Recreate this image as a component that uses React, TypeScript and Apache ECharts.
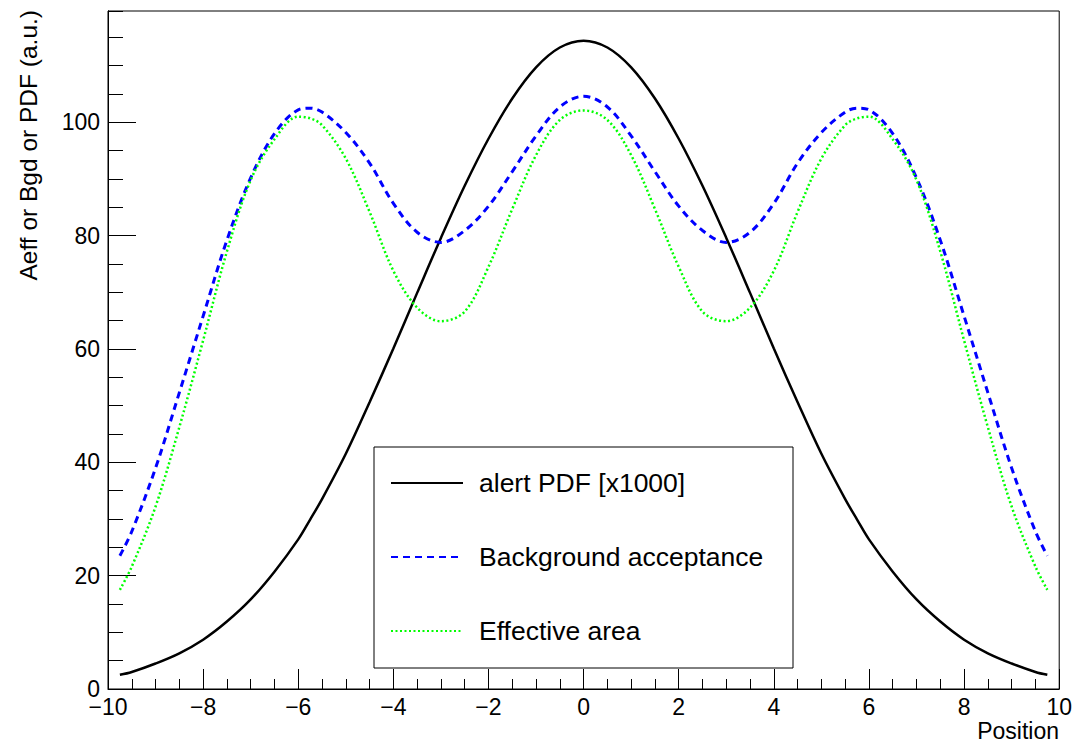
import React, { useEffect, useRef } from "react";
import * as echarts from "echarts";

const FONT = "'Liberation Sans', Arial, Helvetica, sans-serif";

const positions = [
  -9.75, -9.5, -9, -8.5, -8, -7.5, -7, -6.5, -6, -5.75, -5.5, -5, -4.5, -4, -3.5, -3, -2.5, -2, -1.5, -1, -0.5,
  0, 0.5, 1, 1.5, 2, 2.5, 3, 3.5, 4, 4.5, 5, 5.5, 5.75, 6, 6.5, 7, 7.5, 8, 8.5, 9, 9.5, 9.75,
];

const alertPdf = [
  2.5, 3.0, 4.5, 6.3, 8.7, 11.9, 15.8, 20.7, 26.4, 29.9, 33.5, 41.5, 50.6, 60.1, 69.9, 79.6, 88.8, 97.1, 104.2, 109.7, 113.2,
  114.4, 113.2, 109.7, 104.2, 97.1, 88.8, 79.6, 69.9, 60.1, 50.6, 41.5, 33.5, 29.9, 26.4, 20.7, 15.8, 11.9, 8.7, 6.3, 4.5, 3.0, 2.5,
];

const bgdAcceptance = [
  23.5, 27.8, 39.0, 52.3, 65.8, 79.2, 90.2, 98.0, 102.2, 102.5, 101.8, 98.2, 92.8, 85.7, 80.6, 78.8, 80.9, 85.2, 91.3, 97.6, 102.7,
  104.6, 102.7, 97.6, 91.3, 85.2, 80.9, 78.8, 80.6, 85.7, 92.8, 98.2, 101.8, 102.5, 102.2, 98.0, 90.2, 79.2, 65.8, 52.3, 39.0, 27.8, 23.5,
];

const effectiveArea = [
  17.5, 21.6, 32.2, 46.2, 61.5, 77.2, 89.8, 97.0, 101.0, 100.7, 99.5, 93.6, 84.2, 73.8, 67.3, 64.9, 66.6, 74.5, 84.7, 94.2, 100.4,
  102.1, 100.4, 94.2, 84.7, 74.5, 66.6, 64.9, 67.3, 73.8, 84.2, 93.6, 99.5, 100.7, 101.0, 97.0, 89.8, 77.2, 61.5, 46.2, 32.2, 21.6, 17.5,
];

const seriesNames = ["alert PDF [x1000]", "Background acceptance", "Effective area"];
const xTitle = "Position";
const yTitle = "Aeff or Bgd or PDF (a.u.)";

const pairs = (ys: number[]) => positions.map((x, i) => [x, ys[i]]);

export default function App() {
  const ref = useRef<HTMLDivElement>(null);

  useEffect(() => {
    document.body.style.margin = "0";
    if (!ref.current) return;
    const chart = echarts.init(ref.current, null, { renderer: "svg" });
    const axisColor = "#000";
    const option: any = {
      animation: false,
      backgroundColor: "#fff",
      grid: {
        left: 108,
        top: 11,
        width: 953,
        height: 678,
        show: true,
        borderColor: "#000",
        borderWidth: 1,
        backgroundColor: "transparent",
      },
      xAxis: {
        type: "value",
        min: -10,
        max: 10,
        interval: 2,
        axisLine: { show: true, onZero: false, lineStyle: { color: axisColor, width: 1 } },
        axisTick: { show: true, inside: true, length: 20, lineStyle: { color: axisColor, width: 1 } },
        minorTick: { show: true, splitNumber: 4, length: 10, lineStyle: { color: axisColor, width: 1 } },
        splitLine: { show: false },
        minorSplitLine: { show: false },
        axisLabel: {
          margin: 6,
          fontSize: 23,
          color: "#000",
          fontFamily: FONT,
          formatter: (v: number) => String(v).replace("-", "\u2212"),
        },
      },
      yAxis: [
        {
          type: "value",
          min: 0,
          max: 119.64,
          interval: 20,
          position: "left",
          axisLine: { show: true, onZero: false, lineStyle: { color: axisColor, width: 1 } },
          axisTick: { show: true, inside: true, length: 28, lineStyle: { color: axisColor, width: 1 } },
          splitLine: { show: false },
          axisLabel: {
            margin: 8,
            fontSize: 23,
            color: "#000",
            fontFamily: FONT,
            showMaxLabel: false,
          },
        },
        {
          type: "value",
          min: 0,
          max: 119.64,
          interval: 5,
          position: "left",
          offset: 0,
          axisLine: { show: true, onZero: false, lineStyle: { color: axisColor, width: 1 } },
          axisTick: { show: true, inside: true, length: 15, lineStyle: { color: axisColor, width: 1 } },
          splitLine: { show: false },
          axisLabel: { show: false },
        },
      ],
      legend: {
        orient: "vertical",
        left: 390,
        top: 468,
        padding: 0,
        itemWidth: 72,
        itemHeight: 14,
        itemGap: 44,
        selectedMode: false,
        itemStyle: { opacity: 0 },
        textStyle: {
          fontSize: 26.5,
          fontFamily: FONT,
          color: "#000",
          lineHeight: 30,
          padding: [0, 0, 0, 11],
        },
        data: seriesNames,
      },
      graphic: [
        {
          type: "rect",
          z: 1,
          shape: { x: 374, y: 447, width: 419, height: 221 },
          style: { fill: "#fff", stroke: "#000", lineWidth: 1 },
        },
        {
          type: "text",
          x: 28,
          y: 10,
          rotation: Math.PI / 2,
          style: {
            text: yTitle,
            fontSize: 24.5,
            fontFamily: FONT,
            fill: "#000",
            align: "right",
            verticalAlign: "middle",
          },
        },
        {
          type: "text",
          x: 1059,
          y: 730.5,
          style: {
            text: xTitle,
            fontSize: 23,
            fontFamily: FONT,
            fill: "#000",
            align: "right",
            verticalAlign: "middle",
          },
        },
      ],
      series: [
        {
          name: seriesNames[0],
          type: "line",
          data: pairs(alertPdf),
          smooth: 0.35,
          symbol: "none",
          showSymbol: false,
          lineStyle: { color: "#000", width: 2.5, type: "solid" },
          itemStyle: { color: "#000" },
        },
        {
          name: seriesNames[1],
          type: "line",
          data: pairs(bgdAcceptance),
          smooth: 0.35,
          symbol: "none",
          showSymbol: false,
          lineStyle: { color: "#0000ff", width: 3, type: [7, 5] },
          itemStyle: { color: "#0000ff" },
        },
        {
          name: seriesNames[2],
          type: "line",
          data: pairs(effectiveArea),
          smooth: 0.35,
          symbol: "none",
          showSymbol: false,
          lineStyle: { color: "#00ff00", width: 2.5, type: [2, 2.5] },
          itemStyle: { color: "#00ff00" },
        },
      ],
    };
    chart.setOption(option);
    return () => chart.dispose();
  }, []);

  return <div ref={ref} style={{ width: 1075, height: 742 }} />;
}
